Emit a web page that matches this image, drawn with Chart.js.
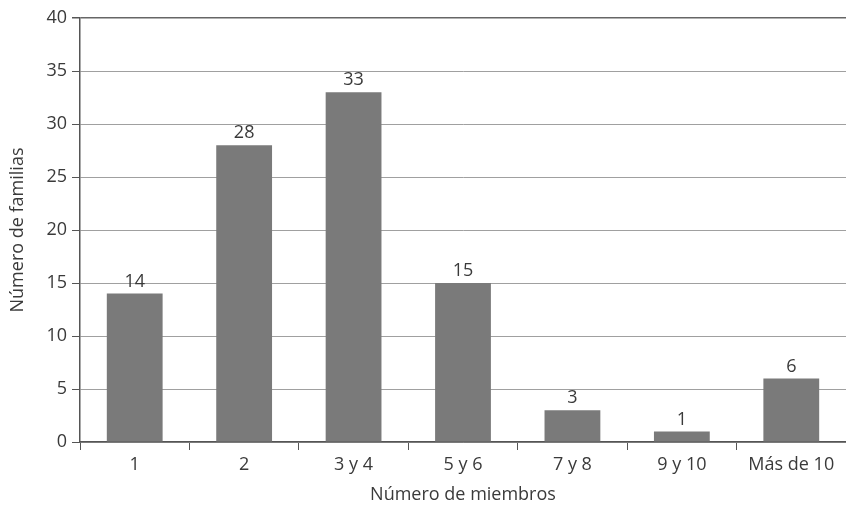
<!DOCTYPE html>
<html>
<head>
<meta charset="utf-8">
<script src="https://cdn.jsdelivr.net/npm/chart.js@4/dist/chart.umd.min.js"></script>
<style>
  html, body { margin: 0; padding: 0; background: #fff; }
  #wrap { width: 846px; height: 512px; }
</style>
</head>
<body>
<div id="wrap"><canvas id="c" width="846" height="512"></canvas></div>
<script>
// Familias según su número de miembros
const categorias = ['1', '2', '3 y 4', '5 y 6', '7 y 8', '9 y 10', 'Más de 10'];
const familias = [14, 28, 33, 15, 3, 1, 6];
const yTicks = [0, 5, 10, 15, 20, 25, 30, 35, 40];

const FONT = '"Open Sans", "Noto Sans", sans-serif';
const TEXT = '#3a3a3a';

// Etiqueta con el valor encima de cada barra
const valueLabels = {
  id: 'valueLabels',
  afterDatasetsDraw(chart) {
    const ctx = chart.ctx;
    const meta = chart.getDatasetMeta(0);
    ctx.save();
    ctx.font = '18px ' + FONT;
    ctx.fillStyle = TEXT;
    ctx.textAlign = 'center';
    ctx.textBaseline = 'bottom';
    meta.data.forEach((bar, i) => {
      ctx.fillText(String(familias[i]), bar.x, bar.y - 3);
    });
    ctx.restore();
  }
};

new Chart(document.getElementById('c'), {
  type: 'bar',
  data: {
    labels: categorias,
    datasets: [{
      data: familias,
      backgroundColor: '#7a7a7a',
      borderWidth: 0,
      barPercentage: 0.51,
      categoryPercentage: 1
    }]
  },
  options: {
    responsive: false,
    animation: false,
    layout: { padding: { top: 18, right: 0, left: 0, bottom: 0 } },
    plugins: { legend: { display: false }, tooltip: { enabled: false } },
    scales: {
      x: {
        offset: true,
        grid: {
          offset: true,
          drawOnChartArea: false,
          drawTicks: true,
          tickLength: 8,
          color: '#555'
        },
        border: { display: true, color: '#555', width: 1.5 },
        ticks: { color: TEXT, font: { family: FONT, size: 18 }, padding: 4, maxRotation: 0 },
        title: {
          display: true,
          text: 'Número de miembros',
          color: TEXT,
          font: { family: FONT, size: 18 },
          padding: { top: 4, bottom: 6 }
        },
        afterFit(s) { s.height = 70; }
      },
      y: {
        min: 0,
        max: 40,
        afterBuildTicks(s) { s.ticks = yTicks.map(v => ({ value: v })); },
        grid: {
          color: ctx => (ctx.tick && ctx.tick.value === 40 ? '#666' : '#a0a0a0'),
          lineWidth: ctx => (ctx.tick && ctx.tick.value === 40 ? 1.5 : 1),
          tickColor: '#555',
          tickLength: 8
        },
        border: { display: true, color: '#555', width: 1.5 },
        ticks: { color: TEXT, font: { family: FONT, size: 18 }, padding: 5 },
        title: {
          display: true,
          text: 'Número de familias',
          color: TEXT,
          font: { family: FONT, size: 18 },
          padding: { top: 7, bottom: 4 }
        },
        afterFit(s) { s.width = 80; }
      }
    }
  },
  plugins: [valueLabels]
});
</script>
</body>
</html>
